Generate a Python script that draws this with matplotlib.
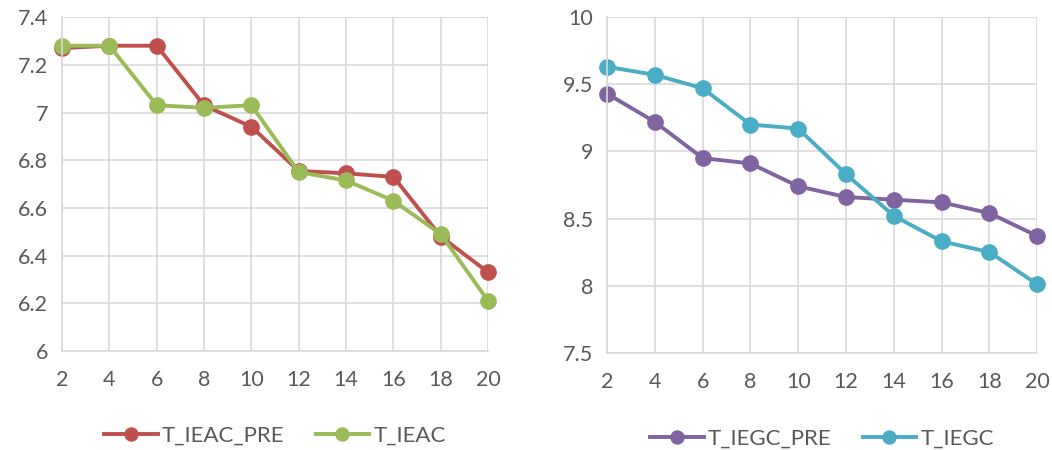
import matplotlib
matplotlib.use("Agg")
import matplotlib.pyplot as plt

plt.rcParams['font.family'] = ['Lato', 'DejaVu Sans']

x = [2, 4, 6, 8, 10, 12, 14, 16, 18, 20]

t_ieac_pre = [7.27, 7.28, 7.28, 7.03, 6.94, 6.755, 6.745, 6.73, 6.48, 6.33]
t_ieac = [7.28, 7.28, 7.03, 7.02, 7.03, 6.75, 6.715, 6.63, 6.49, 6.21]

t_iegc_pre = [9.43, 9.22, 8.95, 8.91, 8.74, 8.66, 8.64, 8.62, 8.54, 8.37]
t_iegc = [9.63, 9.57, 9.47, 9.20, 9.17, 8.83, 8.52, 8.33, 8.25, 8.01]

grid_c = '#D9D9D9'
text_c = '#595959'

fig = plt.figure(figsize=(10.52, 4.5), dpi=100)
ax1 = fig.add_axes([0.059, 0.22, 0.405, 0.742])
ax2 = fig.add_axes([0.577, 0.216, 0.409, 0.746])


def style(ax, ylim, yticks, ylabels):
    ax.set_xlim(2, 20)
    ax.set_ylim(*ylim)
    ax.set_xticks(x)
    ax.set_yticks(yticks)
    ax.set_yticklabels(ylabels)
    ax.grid(True, color=grid_c, linewidth=1.2)
    ax.set_axisbelow(True)
    for s in ax.spines.values():
        s.set_visible(False)
    for side in ('left', 'bottom'):
        ax.spines[side].set_visible(True)
        ax.spines[side].set_color(grid_c)
        ax.spines[side].set_linewidth(1.2)
    ax.tick_params(length=0, labelsize=15.5, labelcolor=text_c)
    ax.tick_params(axis='x', pad=14)
    ax.tick_params(axis='y', pad=10)


kw = dict(linewidth=2.8, marker='o', markersize=11, clip_on=False)

ax1.plot(x, t_ieac_pre, color='#C0504D', label='T_IEAC_PRE', **kw)
ax1.plot(x, t_ieac, color='#9BBB59', label='T_IEAC', **kw)
style(ax1, (6, 7.4), [6, 6.2, 6.4, 6.6, 6.8, 7, 7.2, 7.4],
      ['6', '6.2', '6.4', '6.6', '6.8', '7', '7.2', '7.4'])

ax2.plot(x, t_iegc_pre, color='#8064A2', label='T_IEGC_PRE', **kw)
ax2.plot(x, t_iegc, color='#4BACC6', label='T_IEGC', **kw)
style(ax2, (7.5, 10), [7.5, 8, 8.5, 9, 9.5, 10],
      ['7.5', '8', '8.5', '9', '9.5', '10'])

for ax in (ax1, ax2):
    leg = ax.legend(loc='center', bbox_to_anchor=(0.5, -0.255), ncol=2,
                    frameon=False, fontsize=16, handlelength=2.4,
                    columnspacing=1.4, handletextpad=0.2, markerscale=0.85)
    for t in leg.get_texts():
        t.set_color(text_c)

fig.savefig('out.png', dpi=100)
